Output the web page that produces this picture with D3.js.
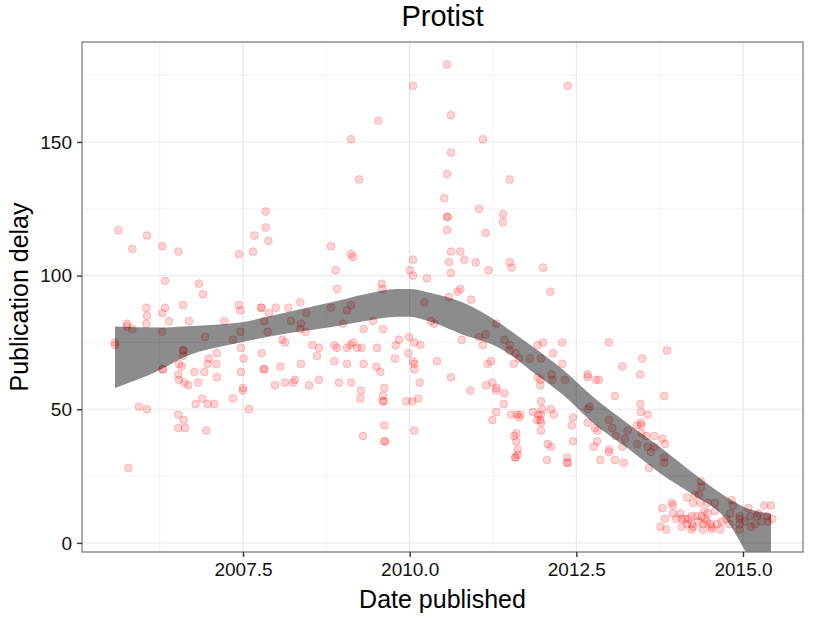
<!DOCTYPE html>
<html>
<head>
<meta charset="utf-8">
<script src="https://cdn.jsdelivr.net/npm/d3@7"></script>
<style>
  body { margin: 0; background: #fff; }
  text { font-family: 'Liberation Sans', Arial, sans-serif; }
</style>
</head>
<body>
<div id="chart"></div>
<script>
// publication date (decimal year) and delay
const pubDate = [
  2005.58, 2005.58, 2005.63, 2006.06, 2005.84, 2006.29, 2006.53, 2007.44, 2007.65, 2007.67,
  2007.84, 2007.84, 2007.88, 2006.33, 2006.84, 2006.90, 2006.05, 2006.06, 2006.05, 2006.33,
  2006.29, 2006.60, 2006.39, 2006.69, 2007.22, 2007.44, 2007.46, 2007.77, 2007.78, 2005.76,
  2005.76, 2005.84, 2006.29, 2006.93, 2007.35, 2007.46, 2007.82, 2007.87, 2006.60, 2006.61,
  2006.60, 2007.11, 2006.99, 2006.97, 2007.10, 2007.47, 2007.51, 2007.78, 2006.29, 2006.30,
  2006.54, 2006.58, 2006.77, 2006.92, 2007.47, 2007.81, 2007.82, 2006.53, 2006.54, 2006.62,
  2006.68, 2006.83, 2007.11, 2007.50, 2007.50, 2007.35, 2006.89, 2006.79, 2006.97, 2007.07,
  2007.59, 2005.94, 2006.06, 2006.53, 2006.61, 2006.53, 2006.63, 2006.95, 2005.78,
  2009.24, 2008.82, 2009.12, 2009.15, 2010.05, 2008.89, 2010.00, 2010.05, 2009.58, 2009.59,
  2008.91, 2008.36, 2007.99, 2008.18, 2007.89, 2008.45, 2008.82, 2009.12, 2009.06, 2008.22,
  2008.37, 2008.36, 2008.44, 2009.00, 2009.45, 2009.31, 2009.60, 2008.09, 2008.13, 2008.54,
  2008.64, 2008.87, 2008.91, 2009.06, 2009.11, 2009.15, 2009.21, 2009.28, 2009.51, 2009.79,
  2009.84, 2009.99, 2009.98, 2009.78, 2010.05, 2008.61, 2008.87, 2009.06, 2009.31, 2009.50,
  2009.56, 2008.37, 2008.06, 2008.64, 2008.28, 2008.25, 2008.13, 2007.98, 2008.49, 2008.94,
  2009.12, 2009.27, 2009.26, 2009.62, 2009.60, 2009.60, 2009.61, 2009.95, 2010.04, 2009.62,
  2009.30, 2009.62, 2009.63, 2010.07,
  2009.12, 2009.53, 2010.56, 2010.05, 2012.37, 2010.62, 2011.10, 2010.62, 2010.56, 2011.50,
  2010.52, 2011.04, 2011.40, 2011.40, 2010.56, 2010.57, 2010.56, 2011.14, 2010.62, 2010.76,
  2010.82, 2010.59, 2010.99, 2011.50, 2011.53, 2012.00, 2010.62, 2011.18, 2010.26, 2010.76,
  2010.72, 2010.59, 2010.92, 2012.11,
  2010.22, 2010.32, 2010.37, 2011.30, 2011.14, 2011.04, 2011.10, 2010.78, 2010.07, 2010.16,
  2011.42, 2011.50, 2011.50, 2011.59, 2011.64, 2011.80, 2011.97, 2011.92, 2012.00, 2012.29,
  2012.15, 2012.29, 2011.56, 2010.07, 2010.07, 2010.41, 2011.17, 2011.22, 2010.15, 2010.62,
  2010.91, 2011.15, 2011.24, 2011.30, 2011.30, 2011.42, 2011.41, 2010.13, 2011.92, 2011.96,
  2011.96, 2012.13, 2012.14, 2012.33, 2011.97, 2011.99, 2012.12, 2012.16, 2011.85, 2011.93,
  2011.97, 2011.96, 2011.91, 2011.97, 2011.97, 2011.52, 2011.61, 2011.64, 2011.66, 2011.30,
  2011.24, 2011.57, 2011.60, 2011.60, 2011.62, 2011.62, 2011.58, 2011.59, 2012.07, 2012.12,
  2012.06, 2012.36, 2012.36, 2012.37, 2012.43, 2012.45,
  2012.99, 2013.86, 2013.19, 2013.49, 2013.46, 2012.67, 2012.67, 2012.79, 2012.84, 2013.08,
  2013.82, 2013.46, 2013.47, 2013.57, 2012.70, 2012.67, 2012.45, 2012.67, 2012.78, 2012.82,
  2012.99, 2013.04, 2013.27, 2013.41, 2013.47, 2013.47, 2013.48, 2013.09, 2013.23, 2013.55,
  2013.67, 2013.79, 2013.83, 2013.41, 2013.57, 2013.67, 2013.62, 2012.81, 2012.76, 2013.19,
  2012.99, 2012.99, 2012.86, 2013.08, 2013.21, 2013.82, 2013.82, 2013.59,
  2014.37, 2014.37, 2014.28, 2014.16, 2014.34, 2014.25, 2014.47, 2014.58, 2014.36, 2014.83,
  2014.85, 2014.58, 2014.42, 2014.47, 2013.79, 2013.93, 2013.95, 2013.95, 2014.06, 2013.83,
  2013.76, 2013.85, 2014.08, 2014.13, 2014.18, 2014.23, 2014.31, 2014.38, 2014.43, 2014.16,
  2014.23, 2014.25, 2014.23, 2014.08, 2014.40, 2014.51, 2014.53, 2014.61, 2014.40, 2014.53,
  2014.66, 2014.68, 2014.81, 2014.80, 2014.95, 2014.95, 2014.95, 2014.95, 2015.08, 2015.11,
  2015.12, 2015.21, 2015.23, 2015.32, 2015.42, 2015.36, 2015.38, 2015.44, 2015.28, 2014.00,
  2014.33, 2014.46, 2014.75, 2015.03, 2015.18
];

const pubDelay = [
  75, 74, 117, 115, 110, 111, 109, 108, 109, 115,
  124, 118, 113, 98, 97, 93, 88, 85, 82, 88,
  86, 89, 83, 83, 83, 89, 87, 88, 88, 82,
  81, 80, 79, 77, 76, 79, 83, 79, 72, 72,
  70, 71, 69, 67, 67, 73, 69, 71, 65, 65,
  67, 66, 64, 64, 64, 65, 65, 63, 61, 60,
  59, 60, 62, 58, 57, 54, 54, 52, 52, 52,
  50, 51, 50, 48, 46, 43, 43, 42, 28,
  136, 111, 108, 107, 106, 102, 102, 100, 97, 95,
  95, 90, 88, 88, 86, 86, 88, 89, 87, 83,
  82, 80, 79, 82, 83, 80, 80, 76, 75, 74,
  73, 74, 73, 73, 74, 75, 73, 73, 73, 74,
  76, 77, 71, 69, 68, 70, 68, 67, 67, 66,
  64, 67, 66, 61, 61, 60, 60, 59, 59, 60,
  60, 57, 54, 58, 55, 53, 53, 53, 53, 44,
  40, 38, 38, 42,
  151, 158, 179, 171, 171, 160, 151, 146, 138, 136,
  129, 125, 123, 120, 122, 122, 117, 116, 109, 109,
  106, 105, 105, 105, 103, 103, 101, 102, 99, 95,
  94, 92, 91, 94,
  90, 83, 82, 82, 78, 77, 74, 76, 75, 74,
  76, 74, 72, 71, 69, 69, 69, 74, 75, 75,
  71, 67, 67, 67, 65, 68, 67, 68, 60, 62,
  57, 59, 60, 58, 57, 56, 52, 54, 62, 61,
  59, 63, 61, 61, 53, 50, 50, 48, 49, 48,
  48, 46, 46, 45, 42, 48, 48, 47, 48, 49,
  46, 40, 41, 38, 35, 33, 32, 32, 37, 36,
  31, 32, 30, 30, 44, 38,
  75, 72, 66, 69, 63, 63, 62, 61, 61, 55,
  55, 52, 49, 48, 51, 50, 47, 45, 43, 42,
  46, 43, 42, 44, 45, 44, 41, 40, 39, 40,
  40, 39, 37, 37, 36, 36, 34, 38, 36, 36,
  35, 34, 31, 31, 30, 32, 30, 28,
  23, 21, 18, 17, 18, 15, 15, 15, 15, 16,
  14, 12, 12, 11, 13, 15, 14, 11, 11, 9,
  6, 5, 9, 9, 9, 10, 10, 10, 9, 7,
  7, 6, 5, 6, 7, 7, 6, 7, 5, 5,
  5, 8, 11, 7, 10, 9, 7, 5, 13, 10,
  6, 10, 11, 14, 14, 10, 8, 9, 8, 9,
  8, 8, 9, 8, 7
];

// loess confidence band (upper / lower bound)
const smoothX = [2005.58, 2006.26, 2006.60, 2007.46, 2007.90, 2008.32, 2008.83, 2009.33, 2009.81, 2010.00,
  2010.30, 2010.80, 2011.31, 2011.55, 2011.80, 2012.30, 2012.75, 2013.26, 2013.75, 2014.25,
  2014.75, 2015.05, 2015.42];
const smoothHi = [81, 80.6, 81, 82.5, 84.8, 87.2, 90.0, 93.0, 95.0, 95.0,
  93.6, 89.9, 82.8, 78.7, 74.2, 64.8, 54.7, 44.9, 36.0, 26.2,
  17.2, 13.1, 10.9];
const smoothLo = [58, 64.8, 69.3, 75.0, 77.2, 79.0, 80.8, 83.0, 84.6, 84.6,
  82.8, 77.9, 73.4, 69.7, 64.8, 55.4, 44.9, 35.6, 26.2, 18.0,
  8.6, -3.7, -21.3];

const xTicks = [2007.5, 2010.0, 2012.5, 2015.0];
const xMinor = [2006.25, 2008.75, 2011.25, 2013.75];
const yTicks = [0, 50, 100, 150];
const yMinor = [25, 75, 125, 175];

const W = 825;
const H = 618;
const panel = { left: 82, right: 803, top: 42, bottom: 552 };

const x = d3.scaleLinear().domain([2005.085, 2015.9]).range([panel.left, panel.right]);
const y = d3.scaleLinear().domain([-3.4, 187.4]).range([panel.bottom, panel.top]);

const svg = d3.select('#chart').append('svg').attr('width', W).attr('height', H);

svg.append('defs').append('clipPath').attr('id', 'panelClip')
  .append('rect')
  .attr('x', panel.left).attr('y', panel.top)
  .attr('width', panel.right - panel.left).attr('height', panel.bottom - panel.top);

// grid
const grid = svg.append('g');
grid.selectAll('line.xminor').data(xMinor).enter().append('line')
  .attr('x1', (d) => x(d)).attr('x2', (d) => x(d))
  .attr('y1', panel.top).attr('y2', panel.bottom)
  .attr('stroke', '#f3f3f3').attr('stroke-width', 1);
grid.selectAll('line.yminor').data(yMinor).enter().append('line')
  .attr('y1', (d) => y(d)).attr('y2', (d) => y(d))
  .attr('x1', panel.left).attr('x2', panel.right)
  .attr('stroke', '#f3f3f3').attr('stroke-width', 1);
grid.selectAll('line.xmajor').data(xTicks).enter().append('line')
  .attr('x1', (d) => x(d)).attr('x2', (d) => x(d))
  .attr('y1', panel.top).attr('y2', panel.bottom)
  .attr('stroke', '#e6e6e6').attr('stroke-width', 1.1);
grid.selectAll('line.ymajor').data(yTicks).enter().append('line')
  .attr('y1', (d) => y(d)).attr('y2', (d) => y(d))
  .attr('x1', panel.left).attr('x2', panel.right)
  .attr('stroke', '#ebebeb').attr('stroke-width', 1.1);

// points
const pts = d3.range(pubDate.length).map((i) => ({ date: pubDate[i], delay: pubDelay[i] }));
svg.append('g').attr('clip-path', 'url(#panelClip)')
  .selectAll('circle').data(pts).enter().append('circle')
  .attr('cx', (d) => x(d.date))
  .attr('cy', (d) => y(d.delay))
  .attr('r', 3.9)
  .attr('fill', '#ff0000').attr('fill-opacity', 0.17)
  .attr('stroke', '#ff0000').attr('stroke-opacity', 0.2).attr('stroke-width', 1);

// smoothing ribbon
const band = smoothX.map((d, i) => ({ x: d, lo: smoothLo[i], hi: smoothHi[i] }));
const area = d3.area()
  .x((d) => x(d.x))
  .y0((d) => y(d.lo))
  .y1((d) => y(d.hi))
  .curve(d3.curveMonotoneX);
svg.append('path').datum(band)
  .attr('clip-path', 'url(#panelClip)')
  .attr('d', area)
  .attr('fill', '#000').attr('fill-opacity', 0.45);

// panel border
svg.append('rect')
  .attr('x', panel.left).attr('y', panel.top)
  .attr('width', panel.right - panel.left).attr('height', panel.bottom - panel.top)
  .attr('fill', 'none').attr('stroke', '#7f7f7f').attr('stroke-width', 1.3);

// axes
const xAxis = d3.axisBottom(x).tickValues(xTicks).tickSize(5).tickPadding(6).tickFormat(d3.format('.1f'));
const yAxis = d3.axisLeft(y).tickValues(yTicks).tickSize(5).tickPadding(5);

const gx = svg.append('g').attr('transform', `translate(0,${panel.bottom})`).call(xAxis);
const gy = svg.append('g').attr('transform', `translate(${panel.left},0)`).call(yAxis);
[gx, gy].forEach((g) => {
  g.select('.domain').remove();
  g.selectAll('.tick line').attr('stroke', '#333').attr('stroke-width', 1.4);
  g.selectAll('.tick text')
    .attr('fill', '#111')
    .attr('font-size', 19)
    .attr('font-family', "'Liberation Sans', Arial, sans-serif");
});

// titles
svg.append('text')
  .attr('x', (panel.left + panel.right) / 2).attr('y', 26)
  .attr('text-anchor', 'middle').attr('font-size', 29).attr('fill', '#000')
  .text('Protist');

svg.append('text')
  .attr('x', (panel.left + panel.right) / 2).attr('y', 608)
  .attr('text-anchor', 'middle').attr('font-size', 25).attr('fill', '#000')
  .text('Date published');

svg.append('text')
  .attr('transform', `translate(28,${(panel.top + panel.bottom) / 2}) rotate(-90)`)
  .attr('text-anchor', 'middle').attr('font-size', 25).attr('fill', '#000')
  .text('Publication delay');
</script>
</body>
</html>
